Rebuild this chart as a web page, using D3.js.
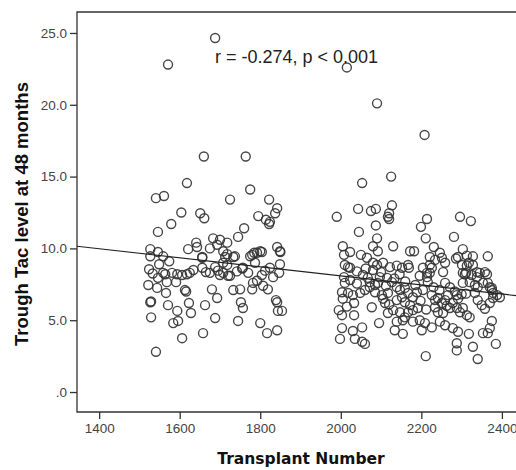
<!DOCTYPE html>
<html><head><meta charset="utf-8">
<script src="https://cdn.jsdelivr.net/npm/d3@7"></script>
<style>html,body{margin:0;padding:0;background:#fff;}svg{display:block;}</style>
</head><body>
<svg id="chart" width="516" height="470"></svg>
<script>
// ---- data (Transplant Number, Trough Tac level at 48 months) ----
const outliers = [[1571,22.8],[1688,24.65],[2015,22.6],[2090,20.1],[2208,17.9]];
const earlyCohort = [
[1660,16.4],[1764,16.4],[1618,14.55],[1541,13.5],[1561,13.65],[1775,14.1],[1725,13.4],[1822,13.4],[1842,12.8],[1604,12.5],[1651,12.45],[1661,12.1],[1837,12.45],[1579,11.7],[1795,12.25],[1814,12.0],[1824,11.85],[1822,11.7],[1546,11.15],[1760,11.4],[1745,10.8],[1683,10.7],[1700,10.6],[1718,10.4],[1693,10.25],[1641,10.4],[1621,9.95],[1643,10.1],[1527,9.95],[1546,9.75],[1842,10.1],[1849,9.8],[1656,9.4],[1675,10.0],[1708,9.8],[1718,9.6],[1792,9.7],[1800,9.8],[1737,9.45],[1775,9.45],[1559,9.45],[1527,9.45],
[1549,8.9],[1524,8.55],[1559,8.3],[1564,8.2],[1581,8.3],[1594,8.2],[1606,8.15],[1618,8.2],[1625,8.3],[1546,7.95],[1568,7.65],[1591,7.65],[1522,7.45],[1544,7.25],[1566,6.9],[1613,7.1],[1616,7.0],[1527,6.25],[1529,6.3],[1571,6.05],[1594,5.65],[1623,6.2],[1628,5.5],[1529,5.2],[1584,4.8],[1596,4.95],[1606,3.75],[1658,4.1],[1541,2.8],
[1656,8.65],[1665,8.35],[1675,8.3],[1656,9.35],[1680,7.15],[1693,6.55],[1663,6.05],[1688,5.15],[1688,8.7],[1695,8.45],[1708,8.3],[1720,8.1],[1725,8.1],[1713,9.4],[1733,9.4],[1733,7.1],[1750,7.15],[1752,6.25],[1757,5.85],[1745,4.95],[1757,8.65],[1755,8.6],[1787,9.0],[1780,7.15],[1782,7.6],[1792,7.75],[1804,8.15],[1807,7.4],[1819,7.15],[1824,8.65],[1849,8.9],[1847,8.3],[1832,8.0],[1800,4.8],[1817,4.1],[1842,4.3],[1839,6.4],[1842,6.25],[1844,5.65],[1854,5.65],[1708,9.0],[1718,8.85],[1785,9.7],[1850,9.75],[1780,9.55],[1804,9.75],
[1533,8.25],[1574,9.1],[1700,8.15],[1742,8.4],[1812,8.45],[1770,8.3],[1634,8.5]
];
const lateCohort = [
[2125,15.0],[2053,14.55],[2127,13.0],[1990,12.2],[2043,12.75],[2075,12.6],[2087,12.75],[2120,12.45],[2117,12.2],[2120,12.05],[2087,11.6],[2214,12.05],[2199,11.5],[2296,12.2],[2323,11.9],[2045,11.15],[2090,10.7],[2211,10.7],[2281,10.8],[2005,10.15],[2080,10.15],[2130,10.15],[2092,9.8],[2023,9.75],[2008,9.55],[2050,9.55],[2172,9.8],[2182,9.8],[2231,10.1],[2246,9.7],[2303,9.95],[2291,9.4],[2328,9.45],[2365,9.45],[2221,9.4],
[2065,9.35],[2251,9.35],[2259,9.0],
[2010,8.85],[2018,8.7],[2023,8.65],[2080,9.0],[2090,8.85],[2105,9.0],[2122,8.7],[2139,8.8],[2167,8.85],[2204,8.65],[2221,8.85],[2234,9.2],[2254,8.35],[2313,8.8],[2328,8.85],[2311,8.3],[2358,8.35],[2363,8.2],
[2008,8.0],[2023,7.8],[2010,7.6],[2055,8.15],[2067,7.95],[2072,7.65],[2097,8.0],[2115,7.95],[2127,7.65],[2080,8.5],[2214,8.0],[2216,7.65],[2259,7.6],[2271,7.3],[2303,7.6],[2320,7.65],[2333,7.45],[2340,7.3],[2353,7.6],[2370,7.3],[2375,7.1],[2378,6.9],
[2003,6.95],[2018,6.9],[2030,6.75],[2048,6.9],[2060,7.1],[2072,7.3],[2005,6.5],[2033,6.2],[2102,6.75],[2105,6.5],[2110,6.2],[2117,6.9],[2139,7.3],[2147,7.1],[2159,7.25],[2139,6.4],[2152,6.6],[2159,6.25],[2167,6.9],[2179,6.6],[2189,6.95],[2204,7.1],[2172,6.05],[2179,5.7],[2191,5.85],[2226,6.75],[2234,6.4],[2241,6.55],[2251,6.2],[2259,6.4],[2263,6.0],[2271,5.85],[2278,6.2],[2288,5.85],[2296,5.55],[2303,5.85],[2313,5.35],[2320,5.2],[2340,6.4],[2350,6.05],[2358,5.8],[2370,6.2],[2378,6.55],[2388,6.75],
[1995,5.7],[2003,5.35],[2033,5.35],[2003,4.45],[2030,4.25],[2053,4.5],[1998,3.7],[2035,3.7],[2053,3.5],[2060,3.35],[2095,4.8],[2139,4.9],[2154,5.0],[2134,4.3],[2154,4.05],[2179,4.9],[2196,5.0],[2201,4.3],[2209,4.8],[2226,4.5],[2246,4.9],[2259,4.65],[2278,4.45],[2291,4.2],[2318,4.05],[2288,3.4],[2288,2.9],[2211,2.5],[2328,3.15],[2340,2.3],[2353,4.1],[2365,4.1],[2370,4.45],[2375,4.95],[2385,3.35],
[2085,7.45],[2092,7.6],[2077,5.9],[2117,5.5],[2130,5.7],[2147,5.55],[2167,5.55],[2159,5.2],[2234,5.9],[2241,5.55],[2254,5.5],[2333,6.9],[2325,8.15],[2338,8.0],
[2226,8.65],[2214,8.3],[2221,8.3],[2152,8.65],[2169,8.65],[2286,9.3],[2313,9.5],[2318,9.0],[2301,8.85],[2303,8.3],[2308,8.2],[2338,8.35],[2345,8.3],[2365,7.6],[2375,7.25],[2300,6.8],[2311,6.85],[2288,6.75],[2291,6.5],[2395,6.6],
[2040,8.4],[2062,8.6],[2100,8.35],[2112,7.4],[2133,7.9],[2146,8.2],[2160,7.7],[2185,7.45],[2196,8.1],[2230,7.3],[2245,7.1],[2266,6.75],[2283,7.0],[2040,7.55],[2085,6.95],[2120,6.1],[2198,6.35],[2212,5.75],[2015,5.95]
];
const fitLine = [[1345,10.15],[2440,6.7]];
const xTicks = [1400,1600,1800,2000,2200,2400];
const yTicks = [0,5,10,15,20,25];
const yTickLabels = [".0","5.0","10.0","15.0","20.0","25.0"];
const annotation = "r = -0.274, p < 0.001";
const xTitle = "Transplant Number";
const yTitle = "Trough Tac level at 48 months";

// ---- drawing ----
const svg = d3.select("#chart");
const L = 77, T = 12, R = 520, B = 412;
const x = d3.scaleLinear().domain([1345, 2440]).range([L, 518]);
const y = d3.scaleLinear().domain([-1.39, 26.46]).range([B, T]);
const ink = "#333";

// frame
svg.append("path").attr("d", `M${R},${T}H${L}V${B}H${R}`)
  .attr("fill","none").attr("stroke", ink).attr("stroke-width", 1.3);

// y axis
const yAxis = svg.append("g").attr("transform", `translate(${L},0)`)
  .call(d3.axisLeft(y).tickValues(yTicks).tickSize(7).tickPadding(3)
    .tickFormat((d,i)=>yTickLabels[i]));
yAxis.select(".domain").remove();
yAxis.selectAll("line").attr("stroke", ink).attr("stroke-width", 1.3);
yAxis.selectAll("text").attr("fill","#444").style("font-family","'Liberation Sans',Arial,sans-serif").style("font-size","13.5px");

// x axis
const xAxis = svg.append("g").attr("transform", `translate(0,${B})`)
  .call(d3.axisBottom(x).tickValues(xTicks).tickSize(7).tickPadding(4).tickFormat(d3.format("d")));
xAxis.select(".domain").remove();
xAxis.selectAll("line").attr("stroke", ink).attr("stroke-width", 1.3);
xAxis.selectAll("text").attr("fill","#444").style("font-family","'Liberation Sans',Arial,sans-serif").style("font-size","13.5px");

// points
const pts = outliers.concat(earlyCohort, lateCohort);
svg.append("clipPath").attr("id","clip").append("rect")
  .attr("x", L).attr("y", T).attr("width", R-L).attr("height", B-T);
const plot = svg.append("g").attr("clip-path","url(#clip)");
plot.selectAll("circle").data(pts).join("circle")
  .attr("cx", d=>x(d[0])).attr("cy", d=>y(d[1])).attr("r", 4.5)
  .attr("fill","none").attr("stroke","#333").attr("stroke-width",1.4).attr("stroke-opacity",0.9);

// fit line
plot.append("line")
  .attr("x1", x(fitLine[0][0])).attr("y1", y(fitLine[0][1]))
  .attr("x2", x(fitLine[1][0])).attr("y2", y(fitLine[1][1]))
  .attr("stroke","#222").attr("stroke-width",1.1);

// annotation
svg.append("text").attr("x", 215).attr("y", 63).text(annotation)
  .attr("fill","#222").style("font-family","'Liberation Sans',Arial,sans-serif").style("font-size","18px");

// titles
svg.append("text").attr("transform", `translate(28,214) rotate(-90)`).attr("text-anchor","middle")
  .text(yTitle).attr("fill","#111")
  .style("font-family","'Liberation Sans',Arial,sans-serif").style("font-weight","bold").style("font-size","18.5px");
svg.append("text").attr("x", 301).attr("y", 464).attr("text-anchor","middle")
  .text(xTitle).attr("fill","#111")
  .style("font-family","'DejaVu Sans',Verdana,sans-serif").style("font-weight","bold").style("font-size","15.5px");
</script>
</body></html>
